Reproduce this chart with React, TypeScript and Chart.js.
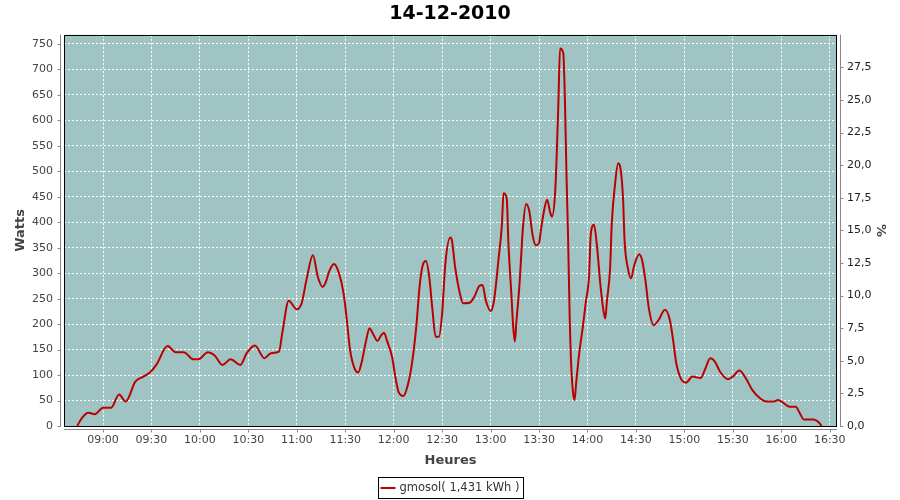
import React, { useEffect, useRef } from "react";
import { Chart, registerables } from "chart.js";

Chart.register(...registerables);

const TITLE = "14-12-2010";
const SERIES_LABEL = "gmosol( 1,431 kWh )";
const X_TITLE = "Heures";
const Y_TITLE = "Watts";
const Y2_TITLE = "%";

const TIMES = [
  "08:44", "08:47", "08:51", "08:55", "09:00", "09:05", "09:10", "09:14", "09:20", "09:25",
  "09:29", "09:33", "09:40", "09:45", "09:50", "09:56", "09:59", "10:05", "10:09", "10:14",
  "10:19", "10:25", "10:29", "10:34", "10:40", "10:44", "10:49", "10:51", "10:55", "11:00",
  "11:03", "11:06", "11:10", "11:13", "11:16", "11:18", "11:20", "11:23", "11:26", "11:29",
  "11:31", "11:33", "11:36", "11:38", "11:40", "11:43", "11:45", "11:47", "11:50", "11:52",
  "11:54", "11:56", "11:59", "12:01", "12:03", "12:06", "12:08", "12:11", "12:14", "12:16",
  "12:18", "12:20", "12:22", "12:24", "12:26", "12:28", "12:30", "12:32", "12:35", "12:36",
  "12:38", "12:41", "12:43", "12:47", "12:50", "12:53", "12:55", "12:57", "13:00", "13:02",
  "13:05", "13:07", "13:08", "13:10", "13:11", "13:13", "13:14", "13:15", "13:16", "13:18",
  "13:20", "13:22", "13:24", "13:26", "13:28", "13:30", "13:31", "13:33", "13:35", "13:37",
  "13:38", "13:40", "13:41", "13:42", "13:43", "13:45", "13:46", "13:47", "13:48", "13:49",
  "13:50", "13:51", "13:52", "13:53", "13:55", "13:57", "13:59", "14:01", "14:02", "14:04",
  "14:06", "14:08", "14:10", "14:11", "14:12", "14:14", "14:15", "14:17", "14:19", "14:20",
  "14:22", "14:23", "14:25", "14:27", "14:29", "14:32", "14:34", "14:36", "14:38", "14:41",
  "14:44", "14:48", "14:51", "14:53", "14:55", "14:58", "15:01", "15:05", "15:10", "15:13",
  "15:16", "15:19", "15:22", "15:27", "15:30", "15:34", "15:38", "15:42", "15:47", "15:51",
  "15:55", "15:58", "16:01", "16:05", "16:09", "16:11", "16:14", "16:20", "16:23", "16:25",
];

const WATTS = [
  0, 16, 26, 23, 36, 36, 62, 48, 87, 97,
  105, 120, 157, 145, 145, 131, 131, 145, 139, 120,
  131, 120, 143, 158, 133, 143, 146, 182, 246, 229,
  241, 287, 335, 293, 273, 283, 303, 318, 301, 260,
  208, 149, 111, 105, 123, 169, 192, 182, 167, 177,
  183, 166, 136, 97, 67, 59, 72, 116, 195, 273,
  316, 324, 293, 228, 175, 175, 221, 319, 370, 365,
  313, 260, 241, 242, 254, 275, 277, 247, 226, 244,
  330, 395, 457, 447, 362, 251, 195, 166, 205, 283,
  388, 436, 421, 375, 355, 359, 381, 421, 444, 418,
  411, 460, 538, 637, 741, 732, 643, 493, 368, 211,
  113, 67, 51, 85, 146, 192, 244, 296, 375, 395,
  349, 277, 224, 211, 244, 310, 395, 473, 516, 512,
  447, 362, 310, 290, 316, 337, 323, 283, 231, 198,
  208, 228, 208, 169, 123, 92, 85, 97, 94, 113,
  133, 126, 107, 92, 97, 109, 94, 71, 54, 48,
  48, 51, 46, 38, 38, 28, 13, 13, 8, 0,
];

const X_TICKS = [
  "09:00", "09:30", "10:00", "10:30", "11:00", "11:30", "12:00", "12:30",
  "13:00", "13:30", "14:00", "14:30", "15:00", "15:30", "16:00", "16:30",
];
const Y_TICKS = [0, 50, 100, 150, 200, 250, 300, 350, 400, 450, 500, 550, 600, 650, 700, 750];
const Y2_TICKS = [0, 2.5, 5, 7.5, 10, 12.5, 15, 17.5, 20, 22.5, 25, 27.5];

const X_MIN = 515.85;
const X_MAX = 994.5;
const Y_MAX = 768;
const Y2_MAX = 30;

const toMin = (t: string) => {
  const [h, m] = t.split(":").map(Number);
  return h * 60 + m;
};
const fmtMin = (v: number) => {
  const h = Math.floor(v / 60);
  const m = Math.round(v - h * 60);
  return String(h).padStart(2, "0") + ":" + String(m).padStart(2, "0");
};

const FONT = "'DejaVu Sans', sans-serif";

const framePlugin = {
  id: "frame",
  beforeDraw(chart: any) {
    const { ctx, chartArea: a } = chart;
    ctx.save();
    ctx.fillStyle = "#ffffff";
    ctx.fillRect(0, 0, chart.width, chart.height);
    ctx.fillStyle = "#9fc4c3";
    ctx.fillRect(a.left, a.top, a.right - a.left, a.bottom - a.top);
    ctx.restore();
  },
  afterDraw(chart: any) {
    const { ctx, chartArea: a, scales } = chart;
    ctx.save();
    ctx.lineWidth = 1;
    ctx.strokeStyle = "#888888";
    ctx.beginPath();
    // left axis
    const lx = Math.round(a.left) - 3.5;
    ctx.moveTo(lx, a.top);
    ctx.lineTo(lx, a.bottom + 1);
    for (const v of Y_TICKS) {
      const y = Math.round(scales.y.getPixelForValue(v)) + 0.5;
      ctx.moveTo(lx - 3, y);
      ctx.lineTo(lx, y);
    }
    // right axis
    const rx = Math.round(a.right) + 3.5;
    ctx.moveTo(rx, a.top);
    ctx.lineTo(rx, a.bottom + 1);
    for (const v of Y2_TICKS) {
      const y = Math.round(scales.y2.getPixelForValue(v)) + 0.5;
      ctx.moveTo(rx, y);
      ctx.lineTo(rx + 3, y);
    }
    // bottom axis
    const by = Math.round(a.bottom) + 3.5;
    ctx.moveTo(a.left, by);
    ctx.lineTo(a.right, by);
    for (const t of X_TICKS) {
      const x = Math.round(scales.x.getPixelForValue(toMin(t))) + 0.5;
      ctx.moveTo(x, by);
      ctx.lineTo(x, by + 3);
    }
    ctx.stroke();

    // plot border
    ctx.strokeStyle = "#000000";
    ctx.strokeRect(Math.round(a.left) + 0.5, Math.round(a.top) + 0.5, Math.round(a.right - a.left) - 1, Math.round(a.bottom - a.top));

    // legend
    ctx.font = "11.5px " + FONT;
    const tw = ctx.measureText(SERIES_LABEL).width;
    const boxW = Math.round(tw + 25);
    const boxH = 21;
    const bx = Math.round(chart.width / 2 - boxW / 2) + 0.5;
    const byy = 477.5;
    ctx.strokeStyle = "#000000";
    ctx.strokeRect(bx, byy, boxW, boxH);
    ctx.strokeStyle = "#bb0000";
    ctx.lineWidth = 2;
    ctx.beginPath();
    ctx.moveTo(bx + 2, byy + 10.5);
    ctx.lineTo(bx + 17, byy + 10.5);
    ctx.stroke();
    ctx.fillStyle = "#333333";
    ctx.textBaseline = "middle";
    ctx.textAlign = "left";
    ctx.fillText(SERIES_LABEL, bx + 21, byy + 11);
    ctx.restore();
  },
};

export default function App() {
  const ref = useRef<HTMLCanvasElement | null>(null);

  useEffect(() => {
    if (!ref.current) return;
    Chart.defaults.font.family = FONT;
    const chart = new Chart(ref.current, {
      type: "line",
      data: {
        datasets: [
          {
            label: SERIES_LABEL,
            data: TIMES.map((t, i) => ({ x: toMin(t), y: WATTS[i] })),
            borderColor: "#bb0000",
            backgroundColor: "#bb0000",
            borderWidth: 2,
            pointRadius: 0,
            fill: false,
            cubicInterpolationMode: "monotone",
            yAxisID: "y",
          },
        ],
      },
      options: {
        responsive: false,
        animation: false,
        events: [],
        layout: { padding: { top: 0, left: 0, right: 0, bottom: 30 } },
        plugins: {
          legend: { display: false },
          tooltip: { enabled: false },
          title: {
            display: true,
            text: TITLE,
            color: "#000000",
            font: { family: FONT, size: 19, weight: "bold" },
            padding: { top: 3, bottom: 9 },
          },
        },
        scales: {
          x: {
            type: "linear",
            min: X_MIN,
            max: X_MAX,
            afterBuildTicks: (s: any) => {
              s.ticks = X_TICKS.map((t) => ({ value: toMin(t) }));
            },
            afterFit: (s: any) => {
              s.height = 44;
            },
            ticks: {
              callback: (v: any) => fmtMin(Number(v)),
              color: "#444444",
              font: { size: 11 },
              padding: 8,
              maxRotation: 0,
              autoSkip: false,
            },
            grid: { color: "#ffffff", drawTicks: false, lineWidth: 1 },
            border: { display: false, dash: [2, 2] },
            title: {
              display: true,
              text: X_TITLE,
              color: "#444444",
              font: { size: 13, weight: "bold" },
              padding: { top: 0, bottom: 2 },
            },
          },
          y: {
            type: "linear",
            position: "left",
            min: 0,
            max: Y_MAX,
            afterBuildTicks: (s: any) => {
              s.ticks = Y_TICKS.map((v) => ({ value: v }));
            },
            afterFit: (s: any) => {
              s.width = 64;
            },
            ticks: {
              color: "#444444",
              font: { size: 11 },
              padding: 11,
              autoSkip: false,
            },
            grid: { color: "#ffffff", drawTicks: false, lineWidth: 1 },
            border: { display: false, dash: [2, 2] },
            title: {
              display: true,
              text: Y_TITLE,
              color: "#444444",
              font: { size: 13, weight: "bold" },
              padding: { top: 13, bottom: 0 },
            },
          },
          y2: {
            type: "linear",
            position: "right",
            min: 0,
            max: Y2_MAX,
            afterBuildTicks: (s: any) => {
              s.ticks = Y2_TICKS.map((v) => ({ value: v }));
            },
            afterFit: (s: any) => {
              s.width = 63;
            },
            ticks: {
              callback: (v: any) => Number(v).toFixed(1).replace(".", ","),
              color: "#222222",
              font: { size: 11 },
              padding: 10,
              autoSkip: false,
            },
            grid: { drawOnChartArea: false, drawTicks: false },
            border: { display: false },
            title: {
              display: true,
              text: Y2_TITLE,
              color: "#444444",
              font: { size: 13, weight: "bold" },
              padding: { top: 12, bottom: 0 },
            },
          },
        },
      },
      plugins: [framePlugin],
    } as any);
    return () => chart.destroy();
  }, []);

  return (
    <div style={{ position: "absolute", left: 0, top: 0, width: 900, height: 500 }}>
      <canvas ref={ref} width={900} height={500} style={{ width: 900, height: 500 }} />
    </div>
  );
}
